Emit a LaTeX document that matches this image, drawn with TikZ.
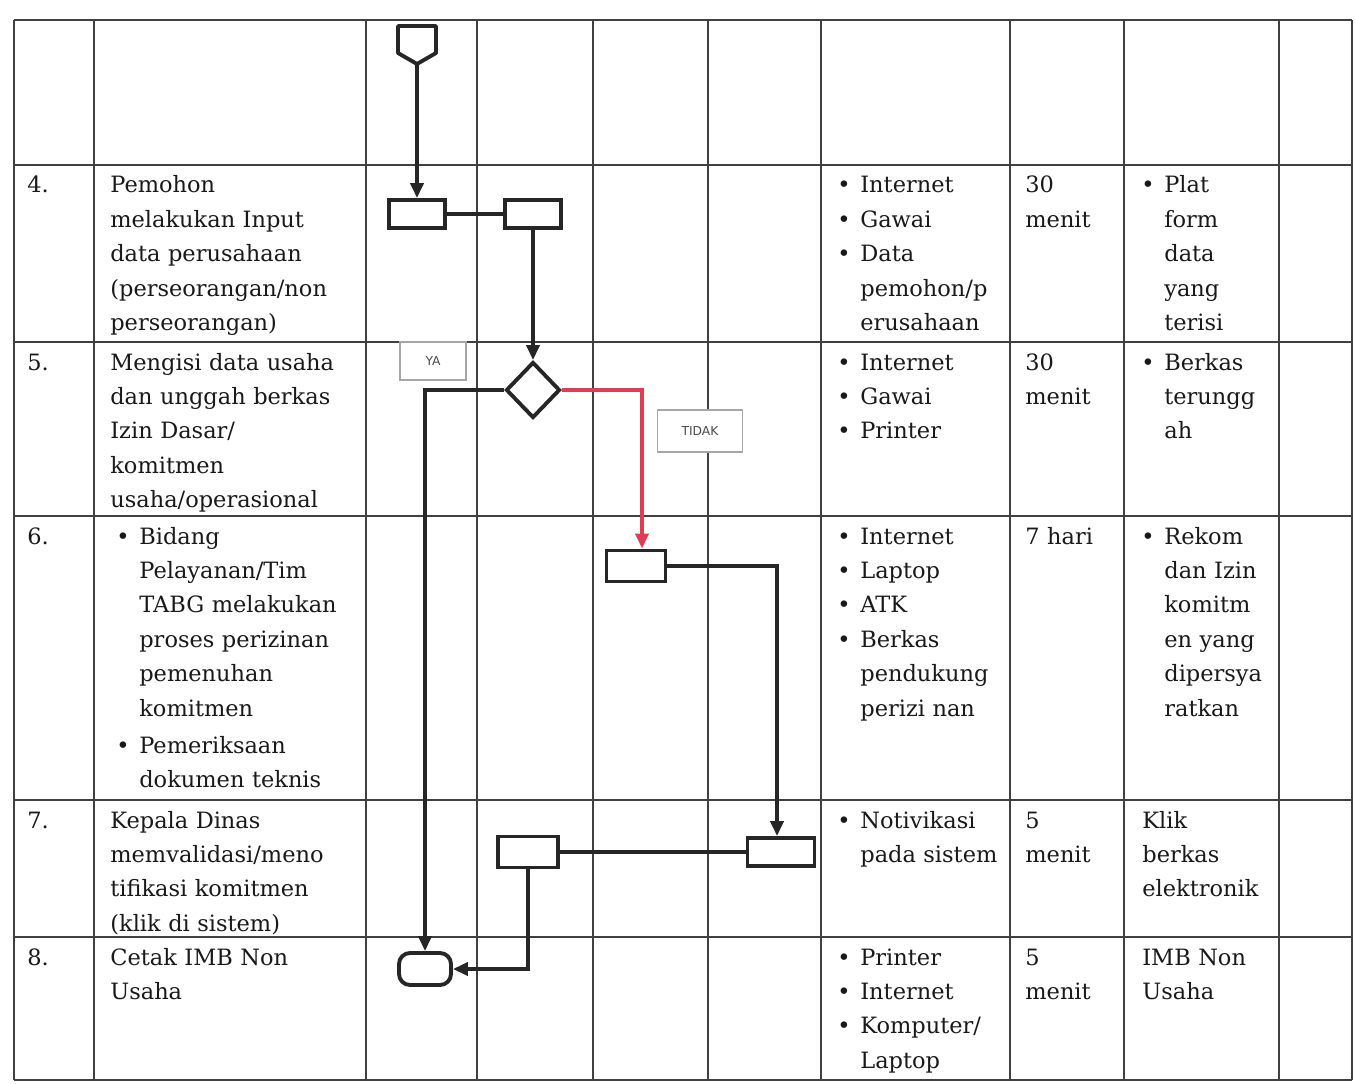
\documentclass[tikz,border=0pt]{standalone}
\usepackage{fontspec}
\setmainfont{DejaVu Serif}
\newfontfamily\tagfont{DejaVu Sans}
\usetikzlibrary{arrows.meta}
\usetikzlibrary{shapes.geometric}
\usetikzlibrary{calc}
\definecolor{tidakred}{RGB}{222,62,84}
\newcommand{\itm}{\makebox[4.6mm][l]{\textbullet}}
\newcommand{\ind}{\hspace*{4.6mm}}

\begin{document}
\begin{tikzpicture}[x=0.2mm,y=-0.2mm,
        celltext/.style={anchor=base west,align=left,inner sep=0pt,text width=6cm,text=black!90,font=\fontsize{12.8}{19.6}\selectfont},
        procbox/.style={draw=black!85,line width=2.2pt,minimum width=11.2mm,minimum height=5.6mm,inner sep=0pt},
        decision/.style={draw=black!85,diamond,line width=2.2pt,minimum width=10.8mm,minimum height=11.2mm,inner sep=0pt},
        endbox/.style={draw=black!85,rounded corners=2.2mm,line width=2.2pt,minimum width=10.4mm,minimum height=6.4mm,inner sep=0pt},
        branchtag/.style={draw=black!35,fill=white,line width=0.7pt,inner sep=0pt,text=black!70,font=\tagfont\fontsize{7}{8}\selectfont},
        flow/.style={line width=2.2pt,draw=black!85,-{Triangle[length=3mm,width=2.6mm]}},
        link/.style={line width=2.2pt,draw=black!85}]
        \useasboundingbox (0,0) rectangle (1355,1084);
        % table grid
        \foreach \y in {20,165,342,516,800,937,1080}
            \draw[line width=1.1pt,black!75] (14,\y) -- (1352,\y);
        \foreach \x in {14,94,366,477,593,708,821,1010,1124,1279,1352}
            \draw[line width=1.1pt,black!75] (\x,20) -- (\x,1080);

        % row 4
        \node[celltext] (n4) at (27,193) {4.};
        \node[celltext] (t4) at (110,193) {Pemohon\\ melakukan Input\\ data perusahaan\\ (perseorangan/non\\ perseorangan)};
        \node[celltext] (r4) at (837,193) {\itm Internet\\ \itm Gawai\\ \itm Data\\ \ind pemohon/p\\ \ind erusahaan};
        \node[celltext] (w4) at (1025,193) {30\\ menit};
        \node[celltext] (o4) at (1141,193) {\itm Plat\\ \ind form\\ \ind data\\ \ind yang\\ \ind terisi};
        % row 5
        \node[celltext] (n5) at (27,370) {5.};
        \node[celltext] (t5) at (110,370) {Mengisi data usaha\\ dan unggah berkas\\ Izin Dasar/\\ komitmen\\ usaha/operasional};
        \node[celltext] (r5) at (837,370) {\itm Internet\\ \itm Gawai\\ \itm Printer};
        \node[celltext] (w5) at (1025,370) {30\\ menit};
        \node[celltext] (o5) at (1141,370) {\itm Berkas\\ \ind terungg\\ \ind ah};
        % row 6
        \node[celltext] (n6) at (27,544) {6.};
        \node[celltext] (t6) at (116,544) {\itm Bidang\\ \ind Pelayanan/Tim\\ \ind TABG melakukan\\ \ind proses perizinan\\ \ind pemenuhan\\ \ind komitmen\\[0.5mm] \itm Pemeriksaan\\ \ind dokumen teknis};
        \node[celltext] (r6) at (837,544) {\itm Internet\\ \itm Laptop\\ \itm ATK\\ \itm Berkas\\ \ind pendukung\\ \ind perizi nan};
        \node[celltext] (w6) at (1025,544) {7 hari};
        \node[celltext] (o6) at (1141,544) {\itm Rekom\\ \ind dan Izin\\ \ind komitm\\ \ind en yang\\ \ind dipersya\\ \ind ratkan};
        % row 7
        \node[celltext] (n7) at (27,828) {7.};
        \node[celltext] (t7) at (110,828) {Kepala Dinas\\ memvalidasi/meno\\ tifikasi komitmen\\ (klik di sistem)};
        \node[celltext] (r7) at (837,828) {\itm Notivikasi\\ \ind pada sistem};
        \node[celltext] (w7) at (1025,828) {5\\ menit};
        \node[celltext] (o7) at (1142,828) {Klik\\ berkas\\ elektronik};
        % row 8
        \node[celltext] (n8) at (27,965) {8.};
        \node[celltext] (t8) at (110,965) {Cetak IMB Non\\ Usaha};
        \node[celltext] (r8) at (837,965) {\itm Printer\\ \itm Internet\\ \itm Komputer/\\ \ind Laptop};
        \node[celltext] (w8) at (1025,965) {5\\ menit};
        \node[celltext] (o8) at (1142,965) {IMB Non\\ Usaha};

        % flow symbols
        \draw[line width=2.2pt,black!85,line join=round] (398,26) -- (436,26) -- (436,53) -- (417,64) -- (398,53) -- cycle;
        \coordinate (start) at (417,64);
        \node[procbox] (box1) at (417,214) {};
        \node[procbox] (box2) at (533,214) {};
        \node[decision] (cek) at (533,390) {};
        \node[procbox,minimum width=11.8mm,minimum height=6.2mm] (box3) at (636,566) {};
        \node[procbox,minimum width=13.4mm] (box4) at (781,852) {};
        \node[procbox,minimum width=12mm,minimum height=6.2mm] (box5) at (528,852) {};
        \node[endbox] (selesai) at (425,969) {};
        \node[branchtag,minimum width=13.2mm,minimum height=7.6mm] (ya) at (433,361) {YA};
        \node[branchtag,minimum width=17mm,minimum height=8.4mm] (tidak) at (700,431) {TIDAK};

        % connectors
        \draw[flow] (start) -- (box1);
        \draw[link] (box1) -- (box2);
        \draw[flow] (box2) -- (cek);
        \draw[flow] (cek.west) -| (selesai.north);
        \draw[flow,draw=tidakred] (cek.east) -| ($(box3.north)+(6,0)$);
        \draw[flow] (box3.east) -| ($(box4.north)+(-4,0)$);
        \draw[link] (box4) -- (box5);
        \draw[flow] (box5.south) |- (selesai.east);
    \end{tikzpicture}
\end{document}
